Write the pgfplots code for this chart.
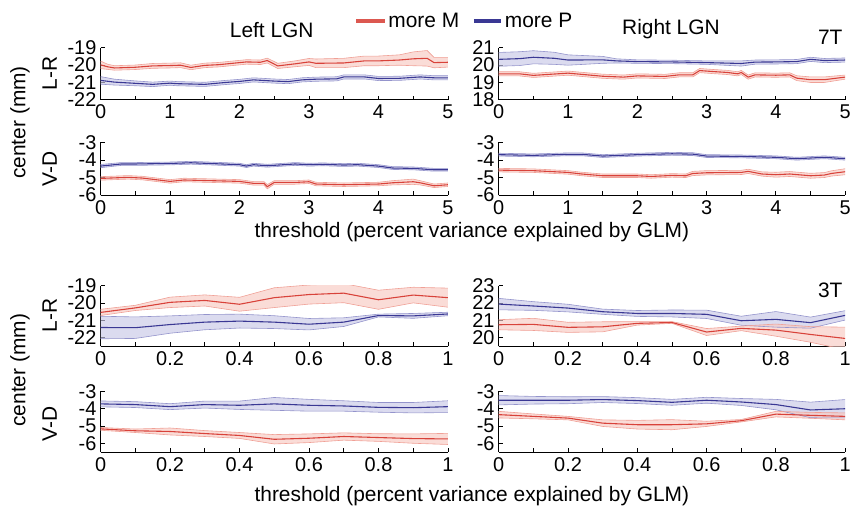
\documentclass[border=0pt]{standalone}
\usepackage{fontspec}
\setmainfont{Liberation Sans}
\usepackage{pgfplots}
\usepackage{pgfplotstable}
\pgfplotsset{compat=1.18}
\usepgfplotslibrary{fillbetween}

\definecolor{mred}{RGB}{216,66,58}
\definecolor{mredband}{RGB}{248,202,194}
\definecolor{mrededge}{RGB}{240,160,150}
\definecolor{legred}{RGB}{220,88,80}
\definecolor{pblue}{RGB}{58,56,148}
\definecolor{pblueband}{RGB}{200,200,230}
\definecolor{pblueedge}{RGB}{148,148,204}

\newcommand\fs{\fontsize{21bp}{25bp}\selectfont}
\newcommand\tfs{\fontsize{20bp}{24bp}\selectfont}

% ---------- 7T Left L-R ----------
\pgfplotstableread{
x m e
0 -19.99 0.22
0.1 -20.10 0.15
0.2 -20.17 0.13
0.35 -20.15 0.13
0.5 -20.13 0.13
0.75 -20.05 0.14
1.0 -20.03 0.14
1.15 -20.01 0.14
1.3 -20.14 0.13
1.5 -20.02 0.13
1.7 -19.98 0.13
1.9 -19.90 0.13
2.1 -19.82 0.13
2.3 -19.84 0.13
2.4 -19.74 0.14
2.55 -20.05 0.15
2.8 -19.93 0.17
3.0 -19.82 0.20
3.1 -19.90 0.25
3.5 -19.88 0.27
3.8 -19.76 0.28
4.0 -19.76 0.28
4.3 -19.71 0.30
4.5 -19.64 0.40
4.7 -19.61 0.45
4.8 -19.86 0.30
5.0 -19.84 0.28
}\tAr
\pgfplotstableread{
x m e
0 -20.89 0.22
0.2 -20.99 0.17
0.5 -21.06 0.14
0.75 -21.12 0.13
1.0 -21.05 0.12
1.1 -21.08 0.12
1.5 -21.12 0.12
1.8 -21.01 0.12
2.0 -20.95 0.12
2.2 -20.86 0.12
2.5 -20.93 0.12
2.7 -20.96 0.12
2.9 -20.86 0.12
3.1 -20.82 0.12
3.4 -20.80 0.12
3.5 -20.69 0.12
3.8 -20.69 0.12
4.0 -20.78 0.12
4.3 -20.77 0.12
4.6 -20.69 0.12
4.8 -20.74 0.12
5.0 -20.74 0.12
}\tAb
% ---------- 7T Right L-R ----------
\pgfplotstableread{
x m e
0 20.33 0.40
0.3 20.37 0.40
0.5 20.45 0.38
0.8 20.39 0.35
1.0 20.29 0.30
1.5 20.30 0.20
1.7 20.24 0.12
2.0 20.20 0.10
2.5 20.18 0.10
3.0 20.14 0.10
3.5 20.09 0.15
3.7 20.17 0.12
4.0 20.18 0.12
4.3 20.20 0.12
4.5 20.33 0.12
4.7 20.26 0.12
5.0 20.29 0.12
}\tBb
\pgfplotstableread{
x m e
0 19.49 0.12
0.3 19.49 0.12
0.5 19.40 0.12
1.0 19.53 0.12
1.5 19.35 0.12
1.8 19.30 0.12
2.0 19.37 0.12
2.4 19.34 0.12
2.6 19.43 0.12
2.8 19.43 0.12
2.9 19.68 0.12
3.1 19.62 0.12
3.3 19.57 0.12
3.45 19.49 0.12
3.5 19.57 0.12
3.6 19.30 0.12
3.7 19.43 0.12
4.0 19.41 0.12
4.2 19.43 0.12
4.3 19.24 0.14
4.5 19.15 0.16
4.7 19.15 0.16
5.0 19.30 0.12
}\tBr
% ---------- 7T Left V-D ----------
\pgfplotstableread{
x m e
0 -4.35 0.09
0.3 -4.23 0.08
0.5 -4.23 0.08
1.0 -4.20 0.08
1.3 -4.16 0.08
1.5 -4.19 0.08
2.0 -4.27 0.08
2.1 -4.35 0.08
2.2 -4.27 0.08
2.4 -4.33 0.08
2.8 -4.23 0.08
3.0 -4.27 0.08
3.2 -4.25 0.08
3.5 -4.29 0.08
3.7 -4.27 0.08
4.0 -4.35 0.08
4.2 -4.46 0.08
4.5 -4.48 0.08
4.8 -4.56 0.08
5.0 -4.56 0.08
}\tCb
\pgfplotstableread{
x m e
0 -5.05 0.10
0.4 -4.99 0.10
0.6 -5.03 0.10
1.0 -5.22 0.10
1.2 -5.14 0.10
1.6 -5.18 0.10
2.0 -5.22 0.10
2.2 -5.33 0.10
2.35 -5.33 0.10
2.4 -5.52 0.12
2.5 -5.28 0.10
2.8 -5.28 0.10
3.0 -5.24 0.10
3.1 -5.37 0.10
3.5 -5.41 0.10
4.0 -5.37 0.10
4.2 -5.30 0.12
4.5 -5.24 0.15
4.6 -5.30 0.12
4.8 -5.47 0.10
5.0 -5.41 0.10
}\tCr
% ---------- 7T Right V-D ----------
\pgfplotstableread{
x m e
0 -3.70 0.08
0.5 -3.74 0.08
1.0 -3.68 0.08
1.2 -3.68 0.08
1.5 -3.78 0.08
2.0 -3.70 0.08
2.5 -3.65 0.08
2.8 -3.67 0.08
3.0 -3.78 0.08
3.5 -3.80 0.08
4.0 -3.85 0.08
4.3 -3.93 0.08
4.7 -3.85 0.08
5.0 -3.93 0.08
}\tDb
\pgfplotstableread{
x m e
0 -4.58 0.10
0.5 -4.61 0.10
1.0 -4.71 0.10
1.2 -4.80 0.10
1.5 -4.90 0.10
2.0 -4.90 0.10
2.2 -4.94 0.10
2.5 -4.88 0.10
2.7 -4.90 0.10
2.8 -4.77 0.12
3.0 -4.73 0.12
3.5 -4.71 0.12
3.6 -4.65 0.12
3.8 -4.80 0.12
4.0 -4.84 0.14
4.2 -4.80 0.14
4.5 -4.90 0.14
4.7 -4.86 0.14
4.8 -4.77 0.15
5.0 -4.67 0.17
}\tDr
% ---------- 3T Left L-R ----------
\pgfplotstableread{
x m e
0 -20.54 0.18
0.1 -20.28 0.15
0.2 -19.96 0.30
0.3 -19.85 0.32
0.4 -20.07 0.40
0.5 -19.69 0.57
0.6 -19.51 0.55
0.7 -19.43 0.55
0.8 -19.81 0.55
0.9 -19.54 0.45
1.0 -19.69 0.55
}\tEr
\pgfplotstableread{
x m e
0 -21.41 0.65
0.1 -21.42 0.62
0.2 -21.24 0.50
0.3 -21.10 0.44
0.4 -21.04 0.40
0.5 -21.10 0.37
0.6 -21.22 0.33
0.7 -21.10 0.25
0.8 -20.72 0.08
0.9 -20.74 0.14
1.0 -20.63 0.10
}\tEb
% ---------- 3T Right L-R ----------
\pgfplotstableread{
x m e
0 21.94 0.33
0.1 21.83 0.25
0.2 21.71 0.22
0.3 21.50 0.15
0.4 21.40 0.17
0.5 21.40 0.20
0.6 21.35 0.24
0.7 20.98 0.26
0.8 21.06 0.45
0.9 20.87 0.32
1.0 21.29 0.27
}\tFb
\pgfplotstableread{
x m e
0 20.75 0.29
0.1 20.77 0.35
0.2 20.60 0.29
0.3 20.63 0.29
0.4 20.83 0.10
0.5 20.88 0.05
0.6 20.33 0.20
0.7 20.54 0.13
0.8 20.44 0.35
0.9 20.19 0.45
1.0 19.96 0.65
}\tFr
% ---------- 3T Left V-D ----------
\pgfplotstableread{
x m e
0 -3.73 0.17
0.1 -3.77 0.17
0.2 -3.89 0.17
0.3 -3.77 0.20
0.4 -3.81 0.24
0.5 -3.73 0.37
0.6 -3.81 0.34
0.7 -3.85 0.30
0.8 -3.93 0.28
0.9 -3.95 0.30
1.0 -3.89 0.34
}\tGb
\pgfplotstableread{
x m e
0 -5.17 0.08
0.1 -5.28 0.10
0.2 -5.32 0.20
0.3 -5.44 0.17
0.4 -5.55 0.17
0.5 -5.77 0.27
0.6 -5.71 0.25
0.7 -5.61 0.21
0.8 -5.67 0.22
0.9 -5.73 0.27
1.0 -5.75 0.32
}\tGr
% ---------- 3T Right V-D ----------
\pgfplotstableread{
x m e
0 -3.52 0.27
0.1 -3.52 0.22
0.2 -3.52 0.20
0.3 -3.48 0.17
0.4 -3.54 0.17
0.5 -3.64 0.17
0.6 -3.52 0.17
0.7 -3.62 0.20
0.8 -3.77 0.30
0.9 -4.08 0.45
1.0 -4.01 0.53
}\tHb
\pgfplotstableread{
x m e
0 -4.35 0.19
0.1 -4.45 0.14
0.2 -4.55 0.10
0.3 -4.84 0.19
0.4 -4.93 0.25
0.5 -4.93 0.29
0.6 -4.88 0.15
0.7 -4.70 0.07
0.8 -4.32 0.16
0.9 -4.39 0.17
1.0 -4.45 0.20
}\tHr

\pgfplotsset{
  panel/.style={
    scale only axis, width=349bp,
    axis x line*=bottom, axis y line*=left,
    tick align=inside, major tick length=4bp, minor tick length=4bp,
    axis line style={black, line width=0.8bp},
    tick style={black, line width=0.8bp},
    ticklabel style={font=\tfs},
    xticklabel style={yshift=-2bp},
    yticklabel style={inner ysep=0pt, inner xsep=4bp},
  },
  seven/.style={xmin=0, xmax=5, xtick={0,1,2,3,4,5},
    xticklabels={0,1,2,3,4,5}, minor xtick={0.5,1.5,2.5,3.5,4.5}},
  three/.style={xmin=0, xmax=1, xtick={0,0.2,0.4,0.6,0.8,1},
    xticklabels={0,0.2,0.4,0.6,0.8,1}, minor xtick={0.1,0.3,0.5,0.7,0.9}},
}

% #1 table, #2 band colour, #3 edge colour, #4 line colour, #5 name
\newcommand{\band}[5]{%
  \addplot[draw=#3, line width=0.6bp, name path=#5U] table[x=x, y expr=\thisrow{m}+\thisrow{e}] {#1};
  \addplot[draw=#3, line width=0.6bp, name path=#5L] table[x=x, y expr=\thisrow{m}-\thisrow{e}] {#1};
  \addplot[fill=#2, fill opacity=0.65, draw=none] fill between[of=#5U and #5L];
}
\newcommand{\mline}[2]{%
  \addplot[draw=#2, line width=1.1bp] table[x=x, y=m] {#1};
}

\begin{document}
\begin{tikzpicture}
\path (0,0) rectangle (854bp,510bp);

% P1
\begin{axis}[panel, seven, at={(101bp,410bp)}, anchor=south west, height=52bp,
  ymin=-22, ymax=-19, ytick={-22,-21,-20,-19}, yticklabels={-22,-21,-20,-19}]
  \band{\tAb}{pblueband}{pblueedge}{pblue}{a}
  \band{\tAr}{mredband}{mrededge}{mred}{b}
  \mline{\tAb}{pblue}
  \mline{\tAr}{mred}
\end{axis}
% P2
\begin{axis}[panel, seven, at={(501bp,410bp)}, anchor=south west, height=52bp, width=348bp,
  ymin=18, ymax=21, ytick={18,19,20,21}, yticklabels={18,19,20,21}]
  \band{\tBb}{pblueband}{pblueedge}{pblue}{a}
  \band{\tBr}{mredband}{mrededge}{mred}{b}
  \mline{\tBb}{pblue}
  \mline{\tBr}{mred}
\end{axis}
% P3
\begin{axis}[panel, seven, at={(101bp,314bp)}, anchor=south west, height=53bp,
  ymin=-6, ymax=-3, ytick={-6,-5,-4,-3}, yticklabels={-6,-5,-4,-3}]
  \band{\tCb}{pblueband}{pblueedge}{pblue}{a}
  \band{\tCr}{mredband}{mrededge}{mred}{b}
  \mline{\tCb}{pblue}
  \mline{\tCr}{mred}
\end{axis}
% P4
\begin{axis}[panel, seven, at={(501bp,314bp)}, anchor=south west, height=53bp, width=348bp,
  ymin=-6, ymax=-3, ytick={-6,-5,-4,-3}, yticklabels={-6,-5,-4,-3}]
  \band{\tDb}{pblueband}{pblueedge}{pblue}{a}
  \band{\tDr}{mredband}{mrededge}{mred}{b}
  \mline{\tDb}{pblue}
  \mline{\tDr}{mred}
\end{axis}
% P5
\begin{axis}[panel, three, at={(101bp,162bp)}, anchor=south west, height=61bp,
  ymin=-22.5, ymax=-19, ytick={-22,-21,-20,-19}, yticklabels={-22,-21,-20,-19}]
  \band{\tEb}{pblueband}{pblueedge}{pblue}{a}
  \band{\tEr}{mredband}{mrededge}{mred}{b}
  \mline{\tEb}{pblue}
  \mline{\tEr}{mred}
\end{axis}
% P6
\begin{axis}[panel, three, at={(501bp,162bp)}, anchor=south west, height=61bp, width=348bp,
  ymin=19.5, ymax=23, ytick={20,21,22,23}, yticklabels={20,21,22,23}]
  \band{\tFb}{pblueband}{pblueedge}{pblue}{a}
  \band{\tFr}{mredband}{mrededge}{mred}{b}
  \mline{\tFb}{pblue}
  \mline{\tFr}{mred}
\end{axis}
% P7
\begin{axis}[panel, three, at={(101bp,56bp)}, anchor=south west, height=61bp,
  ymin=-6.5, ymax=-3, ytick={-6,-5,-4,-3}, yticklabels={-6,-5,-4,-3}]
  \band{\tGb}{pblueband}{pblueedge}{pblue}{a}
  \band{\tGr}{mredband}{mrededge}{mred}{b}
  \mline{\tGb}{pblue}
  \mline{\tGr}{mred}
\end{axis}
% P8
\begin{axis}[panel, three, at={(501bp,56bp)}, anchor=south west, height=61bp, width=348bp,
  ymin=-6.5, ymax=-3, ytick={-6,-5,-4,-3}, yticklabels={-6,-5,-4,-3}]
  \band{\tHb}{pblueband}{pblueedge}{pblue}{a}
  \band{\tHr}{mredband}{mrededge}{mred}{b}
  \mline{\tHb}{pblue}
  \mline{\tHr}{mred}
\end{axis}

% texts
\begin{scope}[every node/.style={font=\fs, inner sep=0pt}]
\node at (273bp,480bp) {Left LGN};
\node at (674bp,481bp) {Right LGN};
\draw[legred, line width=4bp] (358bp,489bp) -- (387bp,489bp);
\node[anchor=west] at (390bp,489bp) {more M};
\draw[pblue, line width=4bp] (476bp,489bp) -- (503bp,489bp);
\node[anchor=west] at (507bp,489bp) {more P};
\node at (834bp,473bp) {7T};
\node at (834bp,218bp) {3T};
\node[rotate=90] at (50bp,436bp) {L-R};
\node[rotate=90] at (50bp,340bp) {V-D};
\node[rotate=90] at (50bp,193bp) {L-R};
\node[rotate=90] at (50bp,84bp) {V-D};
\node[rotate=90] at (20bp,387bp) {center (mm)};
\node[rotate=90] at (20bp,138bp) {center (mm)};
\node at (474bp,277bp) {threshold (percent variance explained by GLM)};
\node at (474bp,12bp) {threshold (percent variance explained by GLM)};
\end{scope}
\end{tikzpicture}
\end{document}
